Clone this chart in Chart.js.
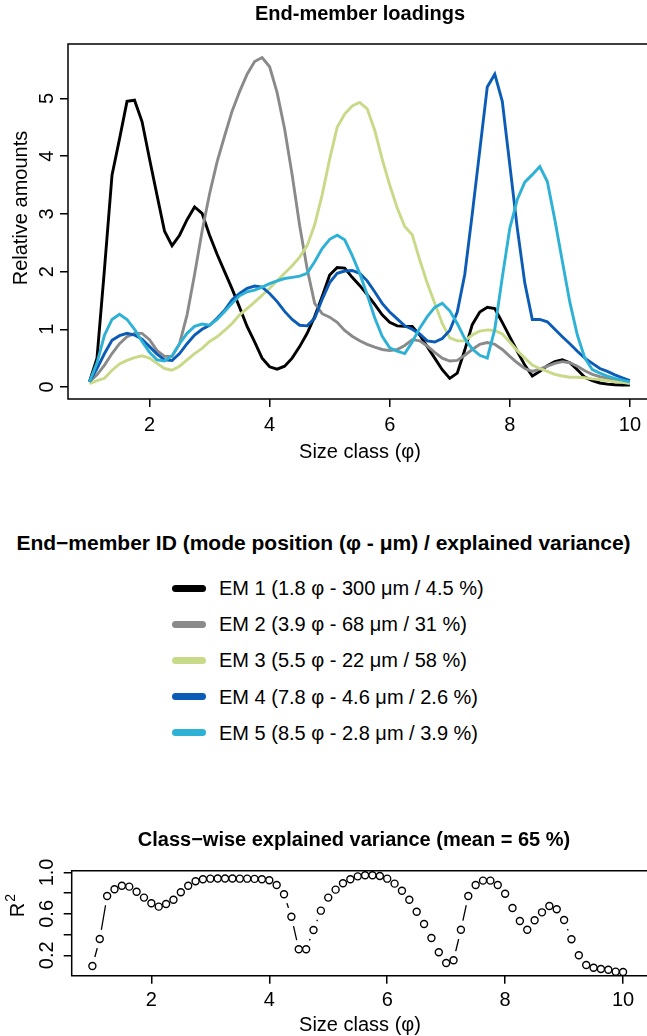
<!DOCTYPE html>
<html>
<head>
<meta charset="utf-8">
<script src="https://cdn.jsdelivr.net/npm/chart.js@4.4.0/dist/chart.umd.min.js"></script>
<style>
  html, body { margin: 0; padding: 0; background: #fff; overflow: hidden; }
  body { width: 647px; height: 1036px; position: relative; font-family: "Liberation Sans", Arial, sans-serif; color: #000; }
  canvas { position: absolute; left: 0; }
  #loadings { top: 0; }
  #variance { top: 820px; }
  #legendTitle { position: absolute; left: 0; width: 647px; top: 530px; text-align: center; font-weight: bold; font-size: 21px; line-height: 26px; white-space: nowrap; }
  .key { position: absolute; left: 172px; width: 34px; height: 7px; border-radius: 3.5px; }
  .lbl { position: absolute; left: 219px; font-size: 20px; line-height: 24px; white-space: nowrap; }
</style>
</head>
<body>
<canvas id="loadings" width="647" height="470"></canvas>
<div id="legendTitle">End&minus;member ID (mode position (φ - μm) / explained variance)</div>
<div id="legend"></div>
<canvas id="variance" width="647" height="216"></canvas>

<script>
// size classes (phi)
var sizeClass = [1, 1.125, 1.25, 1.375, 1.5, 1.625, 1.75, 1.875, 2, 2.125, 2.25, 2.375, 2.5, 2.625, 2.75, 2.875,
  3, 3.125, 3.25, 3.375, 3.5, 3.625, 3.75, 3.875, 4, 4.125, 4.25, 4.375, 4.5, 4.625, 4.75, 4.875,
  5, 5.125, 5.25, 5.375, 5.5, 5.625, 5.75, 5.875, 6, 6.125, 6.25, 6.375, 6.5, 6.625, 6.75, 6.875,
  7, 7.125, 7.25, 7.375, 7.5, 7.625, 7.75, 7.875, 8, 8.125, 8.25, 8.375, 8.5, 8.625, 8.75, 8.875,
  9, 9.125, 9.25, 9.375, 9.5, 9.625, 9.75, 9.875, 10];

// end-member loadings
var em1 = [0.09, 0.5, 2.05, 3.67, 4.3, 4.95, 4.97, 4.6, 3.95, 3.32,
  2.7, 2.45, 2.63, 2.9, 3.12, 3.01, 2.63, 2.3, 2.0, 1.7,
  1.38, 1.05, 0.78, 0.5, 0.35, 0.31, 0.36, 0.5, 0.7, 0.93,
  1.22, 1.57, 1.94, 2.07, 2.06, 1.9, 1.76, 1.6, 1.43, 1.25,
  1.12, 1.06, 1.05, 1.05, 0.9, 0.7, 0.5, 0.3, 0.15, 0.24,
  0.64, 1.08, 1.3, 1.38, 1.36, 1.12, 0.87, 0.62, 0.38, 0.19,
  0.27, 0.37, 0.44, 0.47, 0.42, 0.3, 0.17, 0.11, 0.07, 0.05,
  0.04, 0.035, 0.035];
var em2 = [0.09, 0.21, 0.38, 0.58, 0.75, 0.87, 0.93, 0.93, 0.82, 0.63,
  0.53, 0.53, 0.75, 1.25, 1.95, 2.7, 3.35, 3.9, 4.35, 4.78,
  5.12, 5.42, 5.64, 5.71, 5.55, 5.1, 4.47, 3.68, 2.8, 2.05,
  1.45, 1.27, 1.21, 1.12, 0.98, 0.88, 0.8, 0.74, 0.69, 0.65,
  0.63, 0.65, 0.72, 0.82, 0.8, 0.71, 0.6, 0.5, 0.45, 0.46,
  0.55, 0.65, 0.74, 0.77, 0.74, 0.65, 0.53, 0.42, 0.32, 0.27,
  0.31, 0.36, 0.41, 0.44, 0.42, 0.36, 0.28, 0.22, 0.18, 0.15,
  0.12, 0.1, 0.08];
var em3 = [0.06, 0.11, 0.15, 0.29, 0.4, 0.46, 0.51, 0.54, 0.5, 0.41,
  0.32, 0.29, 0.36, 0.47, 0.58, 0.67, 0.79, 0.87, 0.98, 1.1,
  1.25, 1.36, 1.47, 1.59, 1.71, 1.84, 1.97, 2.1, 2.25, 2.45,
  2.81, 3.33, 3.95, 4.5, 4.73, 4.87, 4.93, 4.82, 4.45, 3.95,
  3.5, 3.1, 2.78, 2.64, 2.2, 1.8, 1.45, 1.1, 0.85, 0.8,
  0.8, 0.9, 0.97, 0.99, 0.98, 0.92, 0.78, 0.63, 0.5, 0.38,
  0.32, 0.27, 0.22, 0.19, 0.17, 0.17, 0.16, 0.14, 0.13, 0.11,
  0.09, 0.08, 0.06];
var em4 = [0.09, 0.32, 0.58, 0.81, 0.89, 0.93, 0.9, 0.83, 0.7, 0.57,
  0.47, 0.46, 0.58, 0.75, 0.9, 1.0, 1.07, 1.19, 1.33, 1.51,
  1.62, 1.71, 1.75, 1.73, 1.62, 1.48, 1.31, 1.17, 1.07, 1.06,
  1.19, 1.52, 1.81, 1.97, 2.01, 2.02, 1.97, 1.84, 1.65, 1.45,
  1.3, 1.18, 1.06, 1.0, 0.92, 0.8, 0.78, 0.84, 0.98, 1.3,
  1.95, 3.0, 4.1, 5.2, 5.42, 4.95, 3.85, 2.75, 1.8, 1.17,
  1.17, 1.13, 1.0, 0.87, 0.75, 0.62, 0.5, 0.41, 0.32, 0.27,
  0.21, 0.16, 0.11];
var em5 = [0.09, 0.42, 0.9, 1.17, 1.26, 1.17, 1.0, 0.79, 0.6, 0.47,
  0.45, 0.54, 0.75, 0.93, 1.05, 1.09, 1.07, 1.17, 1.31, 1.45,
  1.58, 1.65, 1.68, 1.73, 1.79, 1.84, 1.88, 1.9, 1.92, 1.97,
  2.17, 2.4, 2.56, 2.63, 2.55, 2.28, 1.97, 1.6, 1.2, 0.88,
  0.68, 0.62, 0.58, 0.78, 1.02, 1.22, 1.38, 1.45, 1.32, 1.1,
  0.84, 0.66, 0.55, 0.5, 1.0, 1.9, 2.75, 3.25, 3.55, 3.68,
  3.82, 3.56, 2.9, 2.18, 1.47, 0.9, 0.5, 0.3, 0.24, 0.19,
  0.15, 0.12, 0.09];

// class-wise explained variance (R^2)
var rsq = [0.097, 0.357, 0.773, 0.838, 0.872, 0.863, 0.814, 0.757, 0.702, 0.67,
  0.696, 0.737, 0.809, 0.872, 0.915, 0.934, 0.94, 0.942, 0.942, 0.942,
  0.94, 0.94, 0.938, 0.935, 0.925, 0.879, 0.789, 0.573, 0.258, 0.258,
  0.444, 0.631, 0.757, 0.834, 0.896, 0.934, 0.962, 0.973, 0.973, 0.966,
  0.94, 0.892, 0.824, 0.737, 0.621, 0.502, 0.367, 0.229, 0.126, 0.152,
  0.447, 0.773, 0.879, 0.921, 0.921, 0.879, 0.795, 0.657, 0.531, 0.447,
  0.538, 0.615, 0.676, 0.644, 0.541, 0.355, 0.2, 0.106, 0.08, 0.068,
  0.061, 0.042, 0.039];

var xTicks = [2, 4, 6, 8, 10];
var yTicksTop = [0, 1, 2, 3, 4, 5];
var yTicksBottom = [0.2, 0.4, 0.6, 0.8, 1.0];
var yLabelsBottom = [0.2, 0.6, 1.0];

var emLabels = ['EM 1 (1.8 φ - 300 μm / 4.5 %)', 'EM 2 (3.9 φ - 68 μm / 31 %)', 'EM 3 (5.5 φ - 22 μm / 58 %)',
  'EM 4 (7.8 φ - 4.6 μm / 2.6 %)', 'EM 5 (8.5 φ - 2.8 μm / 3.9 %)'];
var emColors = ['#000000', '#8a8a8a', '#c8d987', '#0b5cb6', '#2db1d5'];

var FONT = '"Liberation Sans", Arial, sans-serif';

function pts(ys) {
  return sizeClass.map(function(x, i) { return { x: x, y: ys[i] }; });
}

function drawText(ctx, s, x, y, size, bold, rotated) {
  ctx.save();
  ctx.font = (bold ? 'bold ' : '') + size + 'px ' + FONT;
  ctx.fillStyle = '#000';
  ctx.textAlign = 'center';
  ctx.textBaseline = 'middle';
  ctx.translate(x, y);
  if (rotated) ctx.rotate(-Math.PI / 2);
  ctx.fillText(s, 0, 0);
  ctx.restore();
}

// box round the plot region plus titles and rotated y labels
function frame(cfg) {
  return {
    id: 'frame',
    afterDatasetsDraw: function(chart) {
      var ctx = chart.ctx, a = chart.chartArea;
      ctx.save();
      ctx.strokeStyle = '#000';
      ctx.lineWidth = 1.5;
      ctx.beginPath();
      ctx.moveTo(chart.width, a.top);
      ctx.lineTo(a.left, a.top);
      ctx.lineTo(a.left, a.bottom);
      ctx.lineTo(chart.width, a.bottom);
      ctx.stroke();
      ctx.restore();
    },
    afterDraw: function(chart) {
      var ctx = chart.ctx, y = chart.scales.y;
      drawText(ctx, cfg.title, cfg.titleX, cfg.titleY, 20, true, false);
      drawText(ctx, 'Size class (φ)', cfg.xTitleX, cfg.xTitleY, 20, false, false);
      cfg.yLabels.forEach(function(v) {
        drawText(ctx, cfg.fmt(v), 47, y.getPixelForValue(v), 20, false, true);
      });
      cfg.yTitle(ctx);
    }
  };
}

function scaleX(min, max, h, pad) {
  return {
    type: 'linear', min: min, max: max,
    afterBuildTicks: function(s) { s.ticks = xTicks.map(function(v) { return { value: v }; }); },
    afterFit: function(s) { s.height = h; },
    grid: { drawOnChartArea: false, drawTicks: true, tickLength: 8, color: '#000', lineWidth: 1.5 },
    border: { display: false },
    ticks: { color: '#000', font: { family: FONT, size: 20 }, padding: pad, maxRotation: 0, autoSkip: false }
  };
}

function scaleY(min, max, w, ticks) {
  return {
    type: 'linear', min: min, max: max,
    afterBuildTicks: function(s) { s.ticks = ticks.map(function(v) { return { value: v }; }); },
    afterFit: function(s) { s.width = w; },
    grid: { drawOnChartArea: false, drawTicks: true, tickLength: 8, color: '#000', lineWidth: 1.5 },
    border: { display: false },
    ticks: { display: false }
  };
}

// top panel: loadings
new Chart(document.getElementById('loadings'), {
  type: 'line',
  data: {
    datasets: [em1, em2, em3, em4, em5].map(function(ys, i) {
      return {
        label: emLabels[i], data: pts(ys), borderColor: emColors[i], borderWidth: 2.9,
        pointRadius: 0, tension: 0, fill: false, order: 5 - i
      };
    })
  },
  options: {
    responsive: false, animation: false,
    layout: { padding: { top: 44, left: 0, right: 0, bottom: 0 } },
    plugins: { legend: { display: false }, tooltip: { enabled: false } },
    scales: {
      x: scaleX(0.642, 10.232, 71, 6),
      y: scaleY(-0.208, 5.944, 68, yTicksTop)
    }
  },
  plugins: [frame({
    title: 'End-member loadings', titleX: 360, titleY: 14,
    xTitleX: 360, xTitleY: 452,
    yLabels: yTicksTop, fmt: function(v) { return String(v); },
    yTitle: function(ctx) { drawText(ctx, 'Relative amounts', 21, 208, 20, false, true); }
  })]
});

// legend
var legend = document.getElementById('legend');
emLabels.forEach(function(lab, i) {
  var cy = 588 + i * 36.2;
  var key = document.createElement('span');
  key.className = 'key';
  key.style.top = (cy - 3.5) + 'px';
  key.style.background = emColors[i];
  legend.appendChild(key);
  var t = document.createElement('span');
  t.className = 'lbl';
  t.style.top = (cy - 12) + 'px';
  t.textContent = lab;
  legend.appendChild(t);
});

// bottom panel: class-wise explained variance
new Chart(document.getElementById('variance'), {
  type: 'line',
  data: {
    datasets: [
      { data: pts(rsq), borderColor: '#000', borderWidth: 1.3, pointRadius: 0, tension: 0, order: 3 },
      { data: pts(rsq), showLine: false, pointRadius: 9.5, pointBorderWidth: 0,
        pointBackgroundColor: '#fff', pointBorderColor: '#fff', order: 2 },
      { data: pts(rsq), showLine: false, pointRadius: 3.5, pointBorderWidth: 1.4,
        pointBorderColor: '#000', pointBackgroundColor: '#fff', order: 1 }
    ]
  },
  options: {
    responsive: false, animation: false,
    layout: { padding: { top: 50.7, left: 0, right: 0, bottom: 0 } },
    plugins: { legend: { display: false }, tooltip: { enabled: false } },
    scales: {
      x: scaleX(0.649, 10.245, 60.3, 5),
      y: scaleY(0.003, 1.017, 71.7, yTicksBottom)
    }
  },
  plugins: [frame({
    title: 'Class\u2212wise explained variance (mean = 65 %)', titleX: 354, titleY: 20,
    xTitleX: 360, xTitleY: 205,
    yLabels: yLabelsBottom, fmt: function(v) { return v.toFixed(1); },
    yTitle: function(ctx) {
      ctx.save();
      ctx.fillStyle = '#000';
      ctx.translate(24, 85);
      ctx.rotate(-Math.PI / 2);
      ctx.textBaseline = 'alphabetic';
      ctx.textAlign = 'left';
      ctx.font = '20px ' + FONT;
      var w = ctx.measureText('R').width;
      ctx.fillText('R', -w / 2 - 5, 0);
      ctx.font = '14px ' + FONT;
      ctx.fillText('2', w / 2 - 4, -9);
      ctx.restore();
    }
  })]
});
</script>
</body>
</html>
